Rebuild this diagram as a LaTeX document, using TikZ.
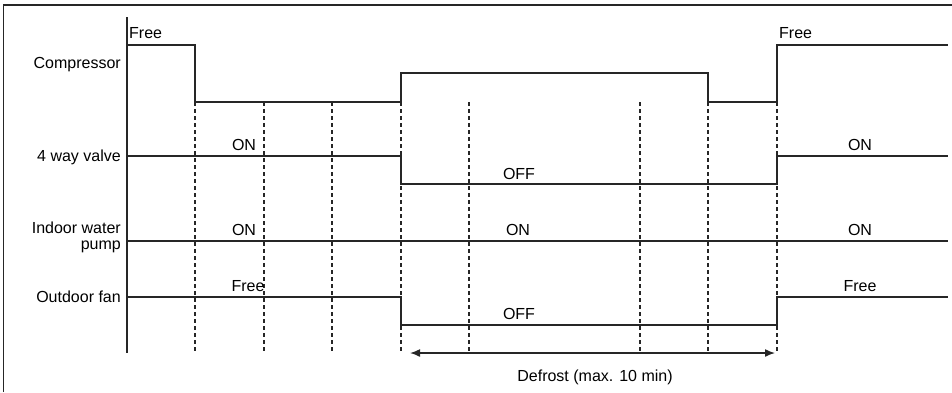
\documentclass[tikz,border=0pt]{standalone}
\usepackage{fontspec}
\setmainfont{Liberation Sans}
\usetikzlibrary{arrows.meta}
\begin{document}
\begin{tikzpicture}[x=1pt,y=-1pt,
  sig/.style={line width=1.5pt,draw=black!85},
  grid/.style={line width=1.2pt,draw=black!85,dash pattern=on 4pt off 3pt},
  lbl/.style={inner sep=0pt,font=\fontsize{16}{19}\selectfont,text=black},
  frame/.style={line width=1.5pt,draw=black!85}]
\useasboundingbox (0,0) rectangle (952,392);
\draw[frame] (3.5,392) -- (3.5,5) -- (952,5);
% axis
\coordinate (axT) at (127,17);
\coordinate (axB) at (127,353);
\draw[sig] (axT) -- (axB);
% dashed time markers
\foreach \x/\n in {195/a,264/b,332/c,401/d,469/e,640/f,708/g,777/h}{
  \coordinate (t\n) at (\x,102);
  \coordinate (b\n) at (\x,353);
  \draw[grid] (t\n) -- (b\n);
}
% compressor
\draw[sig] (127,45) -- (195,45) -- (195,102) -- (401,102) -- (401,73) -- (708,73) -- (708,102) -- (777,102) -- (777,45) -- (948,45);
% 4 way valve
\draw[sig] (127,156) -- (401,156) -- (401,184) -- (777,184) -- (777,156) -- (948,156);
% indoor water pump
\draw[sig] (127,241) -- (948,241);
% outdoor fan
\draw[sig] (127,297) -- (401,297) -- (401,325) -- (777,325) -- (777,297) -- (948,297);
% defrost arrow
\coordinate (arL) at (410,353);
\coordinate (arR) at (775,353);
\draw[line width=1.5pt,draw=black!85,{Latex[length=10pt,width=8pt]}-{Latex[length=10pt,width=8pt]}] (arL) -- (arR);
% row labels
\node[lbl,anchor=base east] (lcomp) at (121,68.3) {Compressor};
\node[lbl,anchor=base east] (lvalve) at (121,161.5) {4 way valve};
\node[lbl,anchor=base east] (lpumpA) at (121,233.3) {Indoor water};
\node[lbl,anchor=base east] (lpumpB) at (121,249.5) {pump};
\node[lbl,anchor=base east] (lfan) at (121,302.3) {Outdoor fan};
% state labels
\node[lbl,anchor=base west] (cfree1) at (129,38.5) {Free};
\node[lbl,anchor=base west] (cfree2) at (779,38.5) {Free};
\node[lbl,anchor=base] (von1) at (244,150.7) {ON};
\node[lbl,anchor=base] (voff) at (519,179) {OFF};
\node[lbl,anchor=base] (von2) at (860,150.7) {ON};
\node[lbl,anchor=base] (pon1) at (244,235) {ON};
\node[lbl,anchor=base] (pon2) at (518,235) {ON};
\node[lbl,anchor=base] (pon3) at (860,235) {ON};
\node[lbl,anchor=base] (ffree1) at (248,291) {Free};
\node[lbl,anchor=base] (foff) at (519,319.3) {OFF};
\node[lbl,anchor=base] (ffree2) at (860,291) {Free};
\node[lbl,anchor=base] (defrost) at (595,381.7) {Defrost (max. 10 min)};
\end{tikzpicture}
\end{document}
